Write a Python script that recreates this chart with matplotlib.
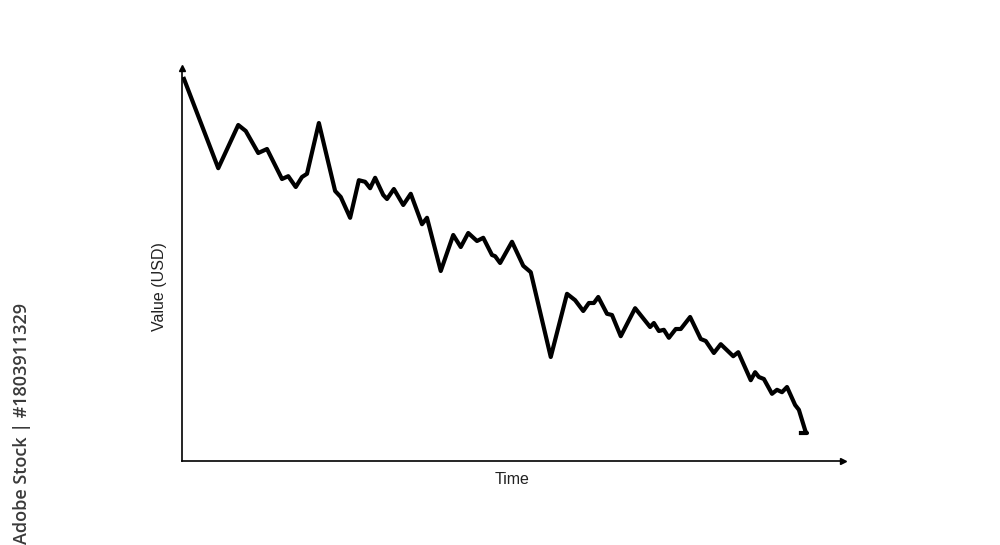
import matplotlib.pyplot as plt

plt.rcParams['font.family'] = ['Liberation Sans', 'DejaVu Sans']

# --- Data (time step, value in USD) ---
time = [0.2, 5.8, 9.0, 10.2, 12.2, 13.6, 16.0, 17.0, 18.2, 19.2,
        20.0, 21.9, 24.5, 25.4, 26.9, 28.3, 29.3, 30.1, 30.9, 32.2,
        32.8, 33.9, 35.4, 36.6, 38.4, 39.2, 41.4, 43.4, 44.6, 45.8,
        47.2, 48.2, 49.6, 50.1, 50.9, 52.8, 54.6, 55.8, 59.0, 61.6,
        62.9, 64.2, 65.1, 65.9, 66.6, 68.0, 68.8, 70.2, 72.5, 74.9,
        75.5, 76.3, 77.1, 77.9, 79.0, 79.8, 81.3, 83.0, 83.8, 85.1,
        86.2, 88.2, 89.0, 91.0, 91.7, 92.3, 93.1, 94.4, 95.2, 96.0,
        96.8, 98.1, 98.7, 99.8, 100.0, 98.7]
value = [96.0, 73.2, 84.0, 82.5, 77.0, 78.0, 70.5, 71.2, 68.5, 71.0,
         71.8, 84.5, 67.5, 66.0, 60.8, 70.2, 69.8, 68.2, 70.8, 66.5,
         65.5, 68.0, 64.0, 66.8, 59.2, 60.8, 47.5, 56.5, 53.5, 57.0,
         55.0, 55.8, 51.5, 51.2, 49.5, 54.8, 48.8, 47.2, 26.0, 41.8,
         40.2, 37.5, 39.5, 39.5, 41.0, 36.8, 36.5, 31.2, 38.2, 33.5,
         34.5, 32.5, 32.8, 30.8, 33.0, 33.0, 36.0, 30.5, 30.0, 27.0,
         29.2, 26.2, 27.2, 20.2, 22.2, 21.0, 20.5, 16.8, 17.8, 17.2,
         18.5, 14.0, 12.8, 7.2, 7.0, 7.0]

fig = plt.figure(figsize=(10, 5.45), dpi=100)
ax = fig.add_axes([0.182, 84 / 545, 0.661, 393 / 545])

ax.plot(time, value, color='black', linewidth=3.0, solid_joinstyle='round',
        solid_capstyle='butt')

ax.set_xlim(0, 105.76)
ax.set_ylim(0, 98.25)

# axis lines with arrow heads
for side in ['top', 'right']:
    ax.spines[side].set_visible(False)
for side in ['left', 'bottom']:
    ax.spines[side].set_linewidth(1.2)
ax.plot(1, 0, '>k', markersize=5, transform=ax.get_yaxis_transform(), clip_on=False)
ax.plot(0, 1, '^k', markersize=5, transform=ax.get_xaxis_transform(), clip_on=False)

ax.set_xticks([])
ax.set_yticks([])

ax.set_xlabel('Time', fontsize=11.5, color='#222222', labelpad=8)
ax.set_ylabel('Value (USD)', fontsize=11.5, color='#222222')
ax.yaxis.set_label_coords(-0.022, 0.445)

# stock id on the left edge
fig.text(0.022, 1 - 303 / 545, 'Adobe Stock | #1803911329', rotation=90,
         ha='center', va='top', fontsize=13, color='#3a3a3a',
         family=['Open Sans', 'DejaVu Sans'], fontweight='semibold')

fig.savefig('out.png', dpi=100)
